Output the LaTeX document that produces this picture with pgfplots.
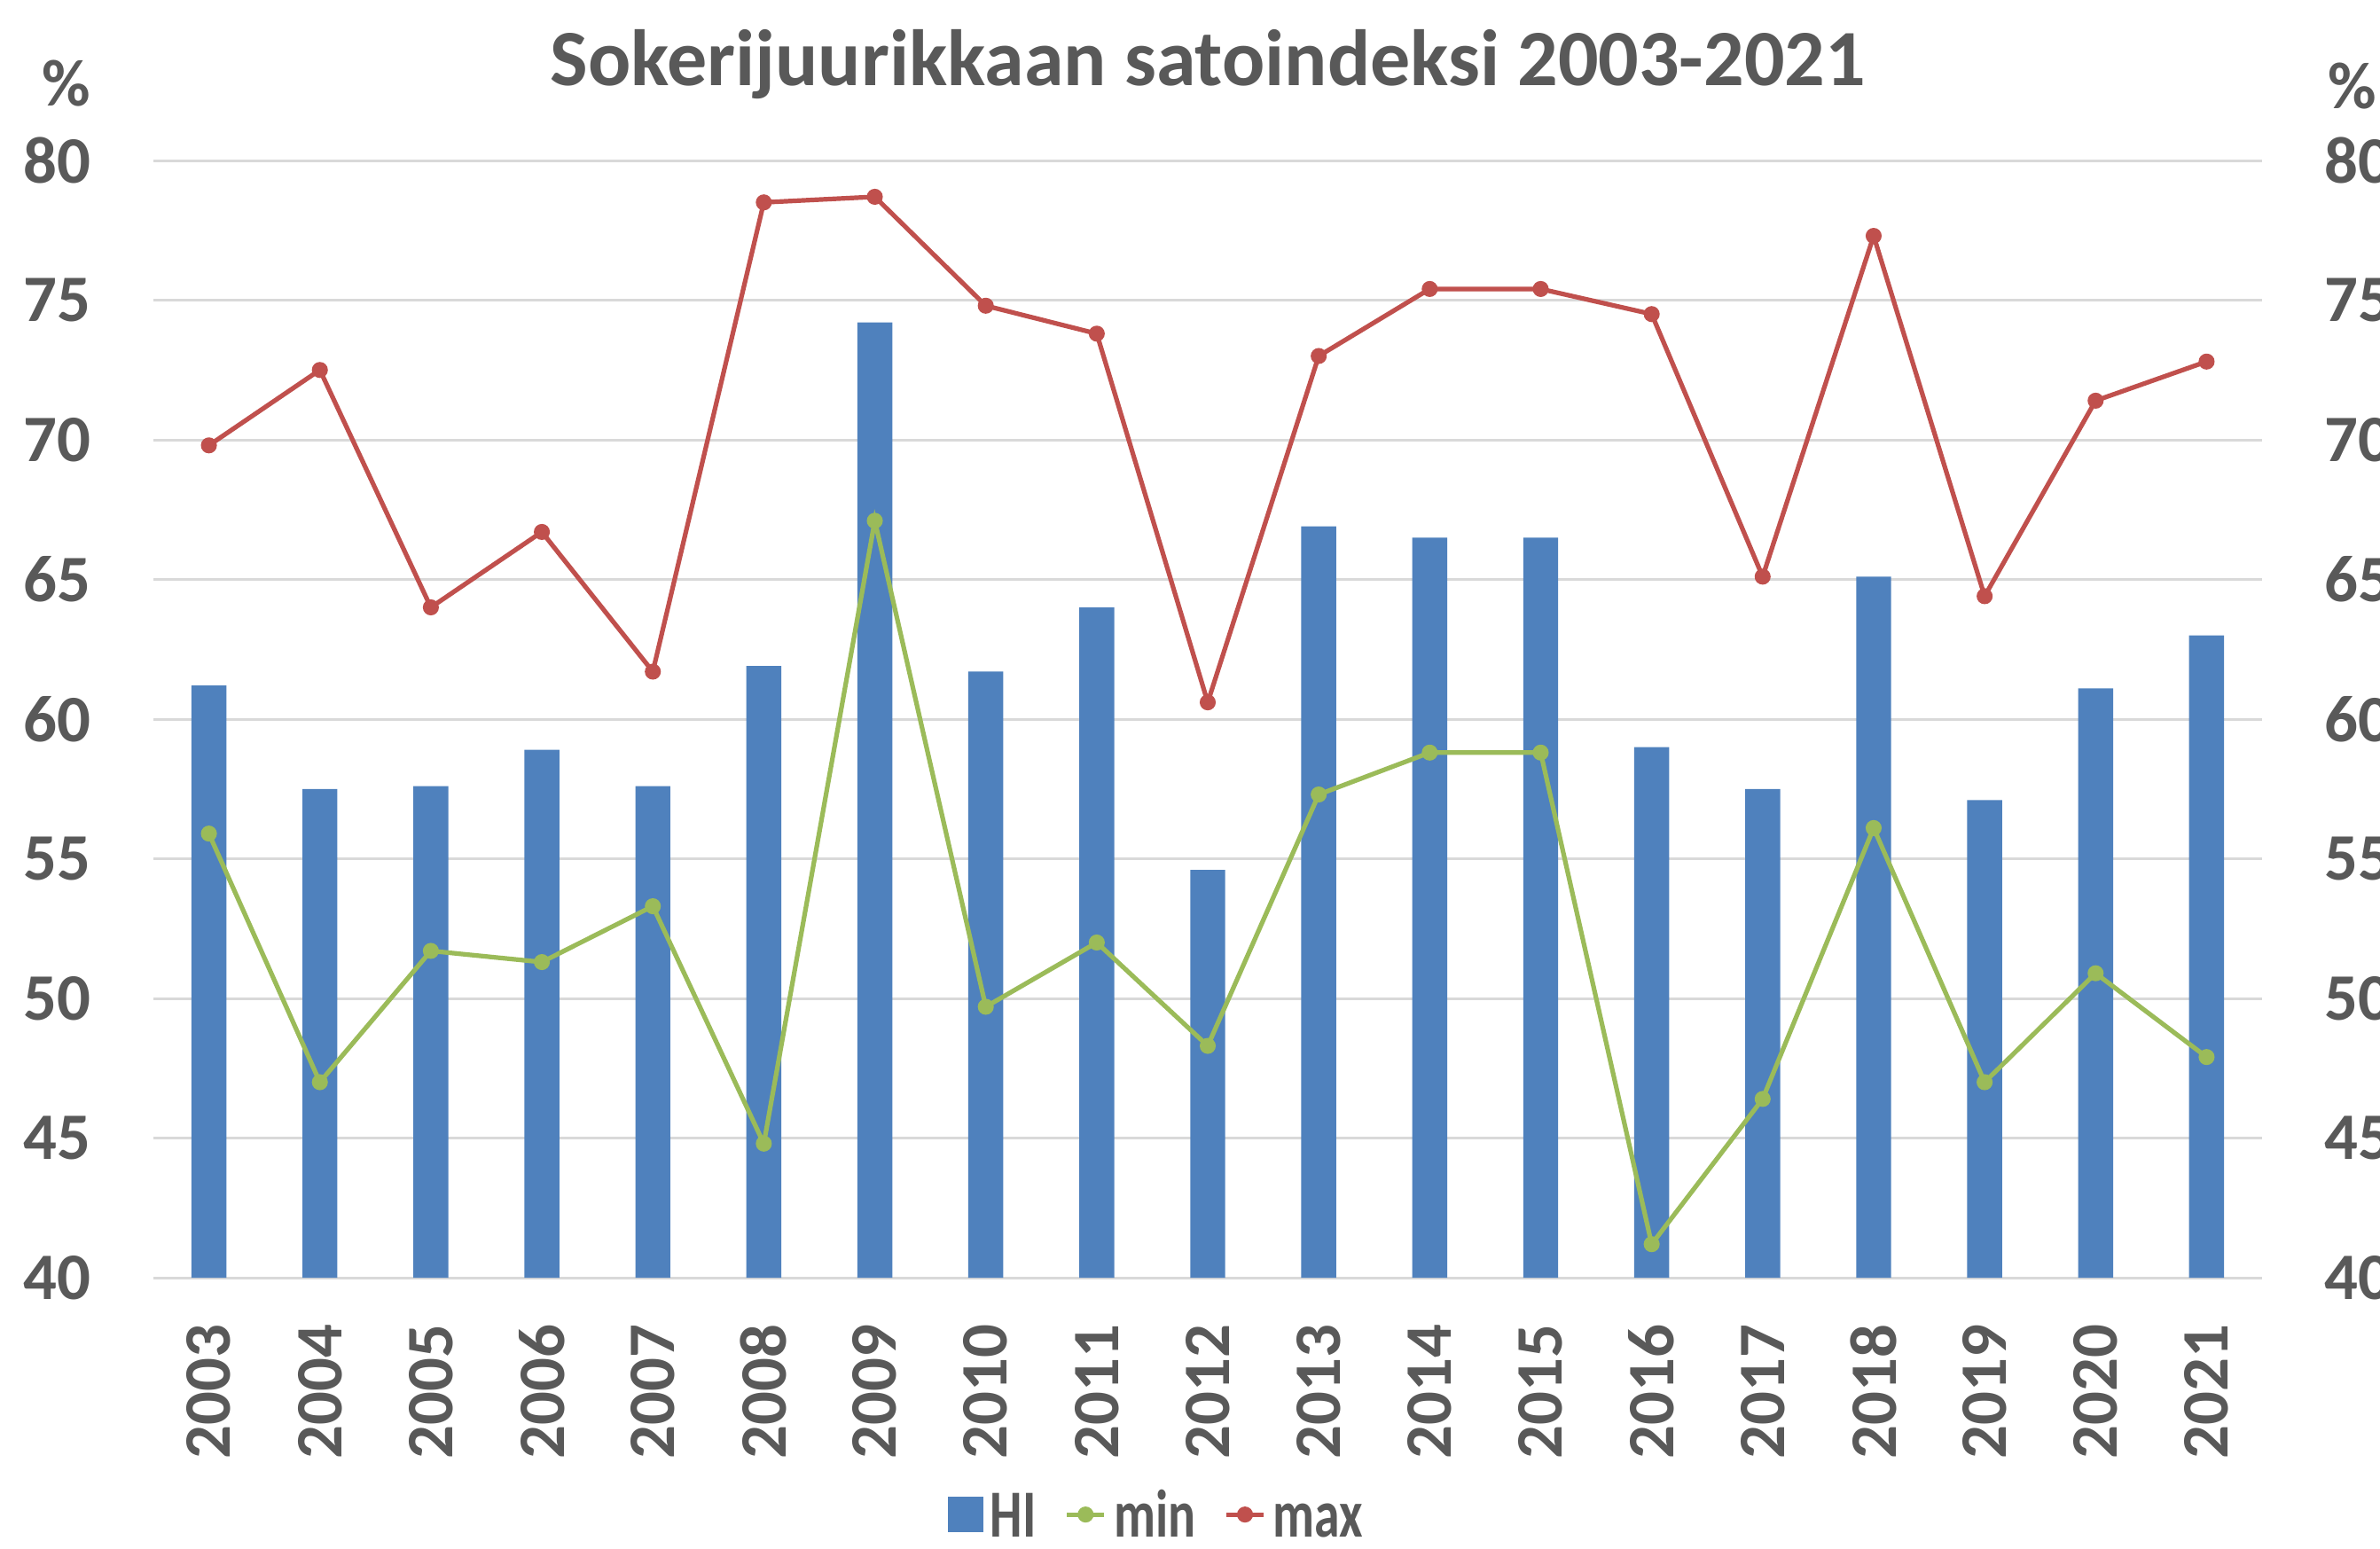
\documentclass[border=0pt]{standalone}
\usepackage{fontspec}
\setmainfont{Carlito}
\usepackage{graphicx}
\usepackage{pgfplots}
\pgfplotsset{compat=1.18}
\usepackage{pgfplotstable}
\definecolor{hiblue}{HTML}{4F81BD}
\definecolor{mingreen}{HTML}{9BBB59}
\definecolor{maxred}{HTML}{C0504D}
\definecolor{txtgray}{HTML}{595959}
\definecolor{gridgray}{HTML}{D9D9D9}
\pgfplotsset{linelegend/.style={legend image code/.code={\draw[mark repeat=2,mark phase=2,##1] plot coordinates {(0pt,0pt)(5.3pt,0pt)(10.6pt,0pt)};}}}
\newcommand{\legtxt}[1]{\scalebox{0.76}[1]{#1}}
\pgfplotstableread{
x hi min max
0 61.2 55.9 69.8
1 57.5 47.0 72.5
2 57.6 51.7 64.0
3 58.9 51.3 66.7
4 57.6 53.3 61.7
5 61.9 44.8 78.5
6 74.2 67.1 78.7
7 61.7 49.7 74.8
8 64.0 52.0 73.8
9 54.6 48.3 60.6
10 66.9 57.3 73.0
11 66.5 58.8 75.4
12 66.5 58.8 75.4
13 59.0 41.2 74.5
14 57.5 46.4 65.1
15 65.1 56.1 77.3
16 57.1 47.0 64.4
17 61.1 50.9 71.4
18 63.0 47.9 72.8
}\data
\newcommand{\tickfont}{\fontsize{18.7}{22}\selectfont\bfseries}
\begin{document}
\begin{tikzpicture}[x=1pt,y=1pt]
\useasboundingbox (0,0) rectangle (671,436.5);
\clip (0,0) rectangle (671,436.5);
\pgfplotsset{
  common/.style={
    at={(43.25pt,76.25pt)}, anchor=south west,
    scale only axis, width=594.5pt, height=315pt,
    xmin=-0.5, xmax=18.5, ymin=40, ymax=80,
    ytick={40,45,50,55,60,65,70,75,80},
    major tick length=0pt,
    tick label style={font=\tickfont, text=txtgray, inner sep=0pt},
    /pgf/number format/assume math mode=true,
    yticklabel shift=17.5pt,
  }
}
\begin{axis}[common,
  axis x line*=bottom, axis y line*=left,
  y axis line style={draw=none},
  x axis line style={draw=gridgray, line width=0.75pt},
  ymajorgrids, grid style={gridgray, line width=0.75pt},
  xtick={0,...,18},
  xticklabels={2003,2004,2005,2006,2007,2008,2009,2010,2011,2012,2013,2014,2015,2016,2017,2018,2019,2020,2021},
  x tick label style={rotate=90, anchor=east},
  xticklabel shift=13pt,
  legend style={at={(0.4756,-0.212)}, anchor=center, draw=none, fill=none,
    legend columns=3, font=\fontsize{19}{22}\selectfont\bfseries, text=txtgray,
    nodes={inner sep=0.5pt, text height=12.5pt, text depth=0pt},
    /tikz/every odd column/.append style={column sep=1.5pt},
    /tikz/every even column/.append style={column sep=7.5pt}},
]
\addplot[ybar, bar width=0.315, fill=hiblue, draw=none,
  legend image code/.code={\fill[hiblue] (0pt,-5pt) rectangle (10pt,5pt);}]
  table[x=x, y=hi] {\data};
\addlegendentry{\legtxt{HI}}
\addplot[sharp plot, mingreen, line width=1.3pt, mark=*, mark size=1.6pt,
  mark options={fill=mingreen, draw=mingreen}, linelegend]
  table[x=x, y=min] {\data};
\addlegendentry{\legtxt{min}}
\addplot[sharp plot, maxred, line width=1.3pt, mark=*, mark size=1.6pt,
  mark options={fill=maxred, draw=maxred}, linelegend]
  table[x=x, y=max] {\data};
\addlegendentry{\legtxt{max}}
\end{axis}
\begin{axis}[common,
  hide x axis,
  axis y line*=right,
  y axis line style={draw=none},
  yticklabel pos=right,
]
\addplot[draw=none] coordinates {(0,40)};
\end{axis}
\node[anchor=base, text=txtgray, font=\fontsize{22.5}{26}\selectfont\bfseries] at (340.5,412.25) {Sokerijuurikkaan satoindeksi 2003-2021};
\node[anchor=base, text=txtgray, font=\tickfont] at (18.75,406.5) {\%};
\node[anchor=base, text=txtgray, font=\tickfont] at (663.25,405.75) {\%};
\end{tikzpicture}
\end{document}
